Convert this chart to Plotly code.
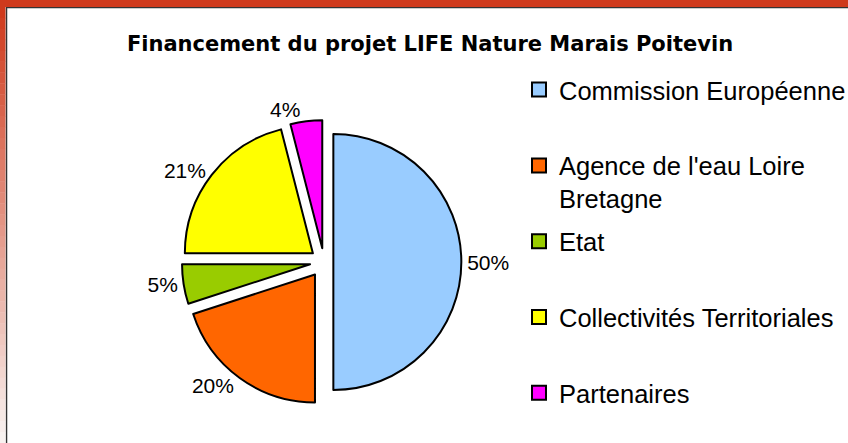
import plotly.graph_objects as go

# ---- data ----
labels = ["Commission Européenne", "Agence de l'eau Loire Bretagne", "Etat",
          "Collectivités Territoriales", "Partenaires"]
legend_names = ["Commission Européenne<br> ", "Agence de l'eau Loire<br>Bretagne", "Etat<br> ",
                "Collectivités Territoriales<br> ", "Partenaires<br> "]
values = [50, 20, 5, 21, 4]
colors = ["#99CCFF", "#FF6600", "#99CC00", "#FFFF00", "#FF00FF"]
pulls = [0.073, 0.12, 0.11, 0.11, 0.108]
title_text = "Financement du projet LIFE Nature Marais Poitevin"

W, H = 848, 443

fig = go.Figure()

fig.add_trace(go.Pie(
    labels=labels, values=values, sort=False, direction="clockwise", rotation=0,
    marker=dict(colors=colors, line=dict(color="black", width=2)),
    pull=pulls, textinfo="percent", texttemplate="%{percent:.0%}",
    textposition="outside",
    outsidetextfont=dict(family="Liberation Sans, Arial, sans-serif", size=21, color="black"),
    domain=dict(x=[(324 - 143.4) / W, (324 + 143.4) / W],
                y=[(H - 262 - 143.4) / H, (H - 262 + 143.4) / H]),
    showlegend=False, hoverinfo="label+percent",
))

# legend entries (one per slice)
for name, col in zip(legend_names, colors):
    fig.add_trace(go.Scatter(
        x=[None], y=[None], mode="markers", name=name, legendgroup=name,
        marker=dict(symbol="square", size=14, color=col, line=dict(color="black", width=2)),
        hoverinfo="skip",
    ))

# background frame
shapes = []
shapes.append(dict(type="rect", xref="paper", yref="paper", x0=6.5 / W, x1=1.1,
                   y0=-0.1, y1=1 - 7.5 / H, line=dict(color="#333333", width=1.5),
                   fillcolor="white", layer="below"))
shapes.append(dict(type="rect", xref="paper", yref="paper", x0=0, x1=1,
                   y0=1 - 7 / H, y1=1, line=dict(width=0), fillcolor="#CF3A1C", layer="below"))
n = 40
top = (207, 58, 28)
bot = (248, 242, 240)
for i in range(n):
    t = i / (n - 1)
    c = tuple(int(round(top[k] + (bot[k] - top[k]) * t)) for k in range(3))
    y1 = 1 - 7 / H - i * (1 - 7 / H) / n
    y0 = 1 - 7 / H - (i + 1) * (1 - 7 / H) / n
    shapes.append(dict(type="rect", xref="paper", yref="paper", x0=0, x1=5.5 / W,
                       y0=y0 - 0.001, y1=y1, line=dict(width=0),
                       fillcolor="rgb(%d,%d,%d)" % c, layer="below"))

fig.update_layout(
    width=W, height=H,
    margin=dict(l=0, r=0, t=0, b=0, autoexpand=False),
    paper_bgcolor="white", plot_bgcolor="rgba(0,0,0,0)",
    xaxis=dict(visible=False), yaxis=dict(visible=False),
    shapes=shapes,
    title=dict(text="<b>" + title_text + "</b>", x=430 / W, xanchor="center",
               y=1 - 44 / H, yanchor="middle", yref="container",
               font=dict(family="Comic Sans MS, DejaVu Sans, sans-serif", size=21, color="black")),
    legend=dict(x=519 / W, xanchor="left", y=1 - 66.5 / H, yanchor="top",
                font=dict(family="Liberation Sans, Arial, sans-serif", size=25.5, color="black"),
                valign="top", itemwidth=30, tracegroupgap=6.5,
                bgcolor="rgba(0,0,0,0)", borderwidth=0),
    showlegend=True,
)

fig.write_html("out.html", config={"displayModeBar": False},
               post_script="document.body.style.margin='0';document.body.style.overflow='hidden';")
